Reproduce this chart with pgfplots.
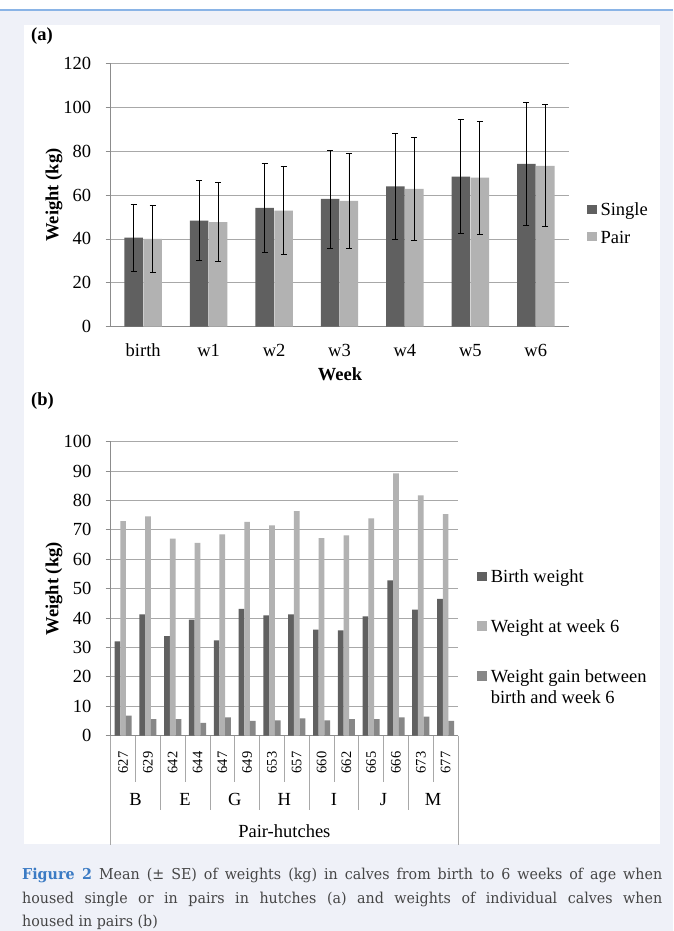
\documentclass[border=0pt]{standalone}
\usepackage{pgfplots}
\pgfplotsset{compat=1.18}
\usepackage{pgfplotstable}
\usepackage{fontspec}
\setmainfont{Liberation Serif}
\newfontfamily\capfont[FakeStretch=0.95]{DejaVu Serif}
\definecolor{bgc}{HTML}{EFF1F8}
\definecolor{topline}{HTML}{8AB4E6}
\definecolor{cdark}{HTML}{606060}
\definecolor{clight}{HTML}{B2B2B2}
\definecolor{cmid}{HTML}{878787}
\definecolor{gridc}{HTML}{A8A8A8}
\definecolor{axc}{HTML}{8C8C8C}
\definecolor{capblue}{HTML}{3B7BC4}
\definecolor{captext}{HTML}{454545}
\newcommand\cf{\fontsize{18.5}{21}\selectfont}
\newcommand\nf{\fontsize{14.5}{16}\selectfont}
\newcommand\capf{\capfont\fontsize{15}{18}\selectfont}

\pgfplotstableread{
x s se p pe
0 40.6 15.3 40.0 15.2
1 48.3 18.2 47.6 18.0
2 54.1 20.4 52.9 20.1
3 58.2 22.3 57.3 21.7
4 64.0 24.1 62.8 23.6
5 68.4 25.9 67.9 25.8
6 74.2 28.0 73.3 27.8
}\dataA

\pgfplotstableread{
x bw wk gain
0 32.1 73.0 6.8
1 41.3 74.6 5.6
2 33.9 67.0 5.6
3 39.5 65.6 4.4
4 32.4 68.5 6.2
5 43.1 72.7 5.0
6 40.9 71.5 5.2
7 41.3 76.4 5.9
8 36.1 67.2 5.2
9 35.8 68.1 5.6
10 40.6 73.9 5.6
11 52.8 89.2 6.2
12 42.9 81.7 6.5
13 46.5 75.4 5.0
}\dataB

\pgfplotsset{excel/.style={
  scale only axis, anchor=south west,
  axis x line*=bottom, axis y line*=left,
  axis line style={axc, line width=0.8pt, -},
  ymajorgrids, grid style={gridc, line width=0.8pt},
  xtick style={draw=none},
  ytick style={axc, line width=0.8pt},
  tick align=outside, major tick length=5pt,
  ticklabel style={font=\cf},
  /pgf/number format/assume math mode=true,
  yticklabel style={anchor=east, inner sep=0pt, xshift=-14.2pt},
  clip=false,
  legend cell align=left,
  legend image code/.code={\fill[##1] (0pt,-4.75pt) rectangle (9.5pt,4.75pt);},
  legend style={draw=none, fill=none, inner sep=0pt, outer sep=0pt, font=\cf,
    nodes={inner sep=0pt}, /tikz/every odd column/.style={column sep=4pt}},
}}

\begin{document}
\begin{tikzpicture}[x=1pt,y=1pt]
\useasboundingbox (0pt,0pt) rectangle (673pt,931pt);
\fill[white] (0pt,0pt) rectangle (673pt,931pt);
\fill[bgc] (0pt,0pt) rectangle (673pt,921pt);
\draw[topline, line width=1.2pt] (0pt,921pt) -- (673pt,921pt);
\fill[white] (24pt,87pt) rectangle (660pt,906pt);

% ---------- (a) ----------
\begin{axis}[excel,
  at={(110.5pt,604.3pt)}, width=458pt, height=263.3pt,
  xmin=-0.5, xmax=6.5, ymin=0, ymax=120,
  ytick={0,20,...,120}, xtick={0,...,6},
  xticklabels={birth,w1,w2,w3,w4,w5,w6},
  xticklabel style={anchor=base, yshift=-25.3pt},
  legend style={at={(1.0404,0.4763)}, anchor=north west, row sep=11pt},
]
\addplot[ybar, bar width=18.5pt, bar shift=0pt, fill=cdark, draw=none,
  error bars/.cd, y dir=both, y explicit,
  error bar style={draw=black, line width=0.8pt},
  error mark options={rotate=90, draw=black, line width=0.8pt, mark size=3pt}]
  table[x expr=\thisrow{x}-0.145, y=s, y error=se] {\dataA};
\addplot[ybar, bar width=18.5pt, bar shift=0pt, fill=clight, draw=none,
  error bars/.cd, y dir=both, y explicit,
  error bar style={draw=black, line width=0.8pt},
  error mark options={rotate=90, draw=black, line width=0.8pt, mark size=3pt}]
  table[x expr=\thisrow{x}+0.145, y=p, y error=pe] {\dataA};
\legend{\strut Single, \strut Pair}
\end{axis}

% ---------- (b) ----------
\begin{axis}[excel,
  at={(110.7pt,195.3pt)}, width=347.3pt, height=294pt,
  xmin=-0.5, xmax=13.5, ymin=0, ymax=100,
  ytick={0,10,...,100}, xtick={0,...,13},
  xticklabels={627,629,642,644,647,649,653,657,660,662,665,666,673,677},
  xticklabel style={font=\nf, yshift=-21.8pt, rotate=90, anchor=center},
  legend style={at={(1.0556,0.5694)}, anchor=north west, row sep=33.5pt},
]
\addplot[ybar, bar width=5.7pt, bar shift=-5.7pt, fill=cdark, draw=none]
  table[x=x, y=bw] {\dataB};
\addplot[ybar, bar width=5.7pt, bar shift=0pt, fill=clight, draw=none]
  table[x=x, y=wk] {\dataB};
\addplot[ybar, bar width=5.7pt, bar shift=5.7pt, fill=cmid, draw=none]
  table[x=x, y=gain] {\dataB};
\legend{\strut Birth weight, \strut Weight at week 6,
  {\begin{tabular}[t]{@{}l@{}}Weight gain between\\birth and week 6\end{tabular}}}
% category frame
\pgfplotsinvokeforeach{0.5,2.5,4.5,6.5,8.5,10.5,12.5}{
  \draw[gridc, line width=0.8pt] (axis cs:#1,0) -- ++(0pt,-46.3pt);}
\pgfplotsinvokeforeach{1.5,3.5,5.5,7.5,9.5,11.5}{
  \draw[gridc, line width=0.8pt] (axis cs:#1,0) -- ++(0pt,-74.3pt);}
\pgfplotsinvokeforeach{-0.5,13.5}{
  \draw[gridc, line width=0.8pt] (axis cs:#1,0) -- ++(0pt,-109.3pt);}
\node[font=\cf, anchor=base, yshift=-70.3pt] at (axis cs:0.5,0) {B};
\node[font=\cf, anchor=base, yshift=-70.3pt] at (axis cs:2.5,0) {E};
\node[font=\cf, anchor=base, yshift=-70.3pt] at (axis cs:4.5,0) {G};
\node[font=\cf, anchor=base, yshift=-70.3pt] at (axis cs:6.5,0) {H};
\node[font=\cf, anchor=base, yshift=-70.3pt] at (axis cs:8.5,0) {I};
\node[font=\cf, anchor=base, yshift=-70.3pt] at (axis cs:10.5,0) {J};
\node[font=\cf, anchor=base, yshift=-70.3pt] at (axis cs:12.5,0) {M};
\node[font=\cf, anchor=base, yshift=-101.3pt] at (axis cs:6.5,0) {Pair-hutches};
\end{axis}

% ---------- labels ----------
\node[font=\bfseries\cf, anchor=base west, inner sep=0pt] at (31pt,890pt) {(a)};
\node[font=\bfseries\cf, anchor=base west, inner sep=0pt] at (31pt,525pt) {(b)};
\node[font=\bfseries\cf, rotate=90, inner sep=0pt] at (54pt,736pt) {Weight (kg)};
\node[font=\bfseries\cf, rotate=90, inner sep=0pt] at (54pt,342.3pt) {Weight (kg)};
\node[font=\bfseries\cf, anchor=base, inner sep=0pt] at (340pt,550pt) {Week};

% ---------- caption ----------
\node[anchor=base west, inner sep=0pt, text=captext, font=\capf] at (22pt,51pt)
  {\makebox[640pt][s]{\textcolor{capblue}{\bfseries Figure 2} Mean (± SE) of weights (kg) in calves from birth to 6 weeks of age when}};
\node[anchor=base west, inner sep=0pt, text=captext, font=\capf] at (22pt,27.7pt)
  {\makebox[640pt][s]{housed single or in pairs in hutches (a) and weights of individual calves when}};
\node[anchor=base west, inner sep=0pt, text=captext, font=\capf] at (22pt,4.4pt)
  {housed in pairs (b)};
\end{tikzpicture}
\end{document}
